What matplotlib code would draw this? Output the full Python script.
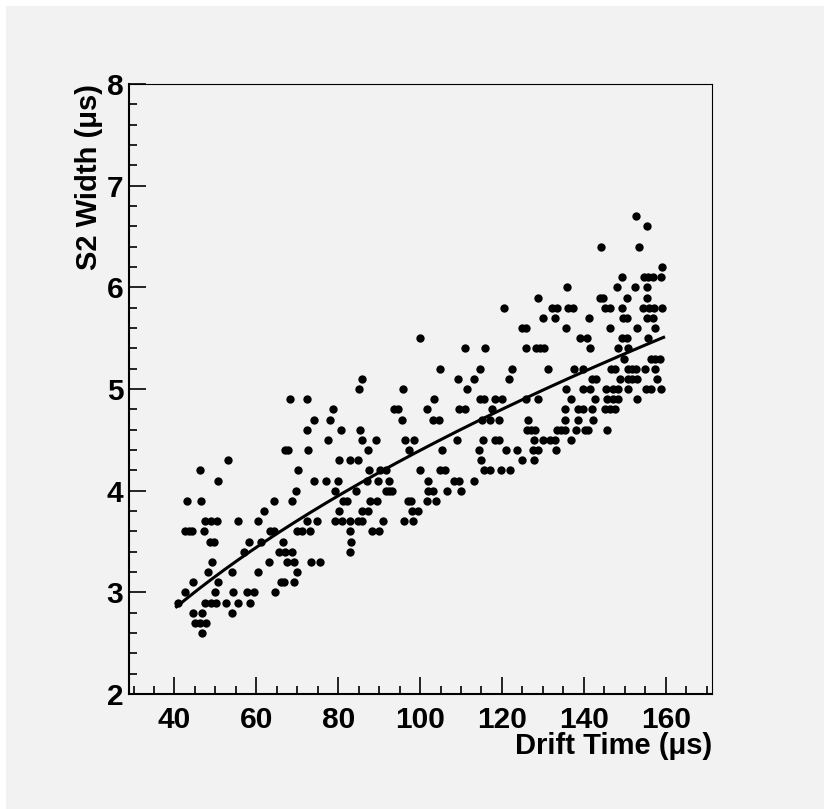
import numpy as np
import matplotlib
matplotlib.use("Agg")
import matplotlib.pyplot as plt
from matplotlib.ticker import MultipleLocator
from matplotlib.patches import Rectangle

# S2 width (us) values are quantised in 0.1 steps; drift times listed per width level
width_levels = [2.6, 2.7, 2.8, 2.9, 3.0, 3.1, 3.2, 3.3, 3.4, 3.5, 3.6, 3.7, 3.8, 3.9,
                4.0, 4.1, 4.2, 4.3, 4.4, 4.5, 4.6, 4.7, 4.8, 4.9, 5.0, 5.1, 5.2, 5.3,
                5.4, 5.5, 5.6, 5.7, 5.8, 5.9, 6.0, 6.1, 6.2, 6.4, 6.6, 6.7]

drift_by_level = [
    [46.8],
    [45.0, 46.3, 47.6],
    [44.6, 46.8, 54.0],
    [40.8, 47.5, 48.9, 50.1, 52.6, 55.5, 58.5],
    [42.6, 49.9, 54.4, 57.7, 59.5, 64.6],
    [44.6, 50.6, 66.0, 66.8, 69.1],
    [48.3, 54.0, 60.3, 69.9],
    [49.1, 63.0, 67.4, 69.1, 73.4, 75.6],
    [57.1, 65.6, 67.0, 68.7, 82.9],
    [48.7, 49.7, 58.2, 61.2, 66.6, 83.2],
    [42.7, 43.6, 44.4, 47.3, 63.4, 64.3, 69.9, 71.1, 73.1, 82.9, 88.2, 90.0],
    [47.5, 48.9, 50.4, 55.6, 60.3, 72.3, 74.9, 79.2, 80.9, 82.9, 84.9, 85.9, 90.9, 96.1, 98.4],
    [62.0, 80.2, 85.8, 87.4, 98.0, 99.6],
    [43.0, 46.5, 64.3, 68.7, 81.1, 82.2, 87.8, 89.4, 97.0, 97.8, 101.6, 103.8],
    [69.6, 79.2, 84.3, 91.6, 92.4, 93.2, 101.9, 103.2, 106.5, 110.0],
    [50.7, 74.2, 77.0, 80.0, 87.1, 89.8, 92.3, 101.9, 108.4, 109.4, 113.3],
    [46.3, 70.1, 87.5, 90.2, 91.6, 99.9, 104.8, 106.0, 115.7, 117.1, 119.8, 122.0],
    [53.2, 80.2, 82.9, 84.9, 114.8, 124.8, 127.9],
    [67.0, 67.8, 72.7, 87.2, 97.3, 105.4, 114.4, 121.0, 123.6, 127.7, 128.9, 133.1],
    [77.4, 85.9, 89.3, 96.3, 98.5, 109.0, 115.3, 118.2, 119.4, 127.9, 130.1, 131.7, 133.0, 137.0],
    [72.5, 80.6, 85.3, 126.1, 127.1, 128.1, 133.4, 134.4, 135.4, 138.2, 140.3, 141.1, 145.7],
    [74.1, 77.9, 95.7, 103.2, 104.6, 115.1, 117.1, 119.3, 126.4, 135.4, 138.5, 142.3],
    [78.8, 93.7, 94.6, 101.8, 109.4, 111.0, 117.5, 135.4, 138.7, 139.9, 141.9, 145.3, 146.4, 147.6],
    [68.3, 72.3, 103.4, 114.6, 115.6, 118.2, 120.0, 125.8, 128.7, 136.9, 142.7, 145.6, 147.2, 148.4, 152.9],
    [85.1, 95.8, 111.5, 135.6, 139.9, 141.5, 145.4, 147.2, 148.4, 150.9, 155.1, 156.4, 158.9],
    [85.8, 109.3, 113.1, 121.8, 141.9, 143.1, 148.8, 150.7, 151.8, 152.9, 157.8],
    [104.8, 114.6, 122.5, 131.3, 137.7, 139.9, 146.6, 147.6, 150.9, 151.8, 152.7, 155.0, 157.4],
    [149.9, 156.4, 157.4, 158.6],
    [110.9, 115.9, 125.8, 128.3, 129.3, 130.4, 141.5, 148.3, 150.9],
    [100.0, 139.0, 140.7, 149.3, 150.5, 155.8],
    [124.8, 125.8, 135.7, 146.4, 152.9, 157.4],
    [130.0, 133.0, 141.3, 149.5, 150.6, 155.4, 157.0],
    [120.6, 132.3, 133.4, 136.2, 137.4, 145.3, 146.4, 149.3, 154.5, 155.9, 157.1, 159.2],
    [128.9, 144.0, 144.8, 150.6, 155.5],
    [135.8, 148.2, 152.5, 155.5],
    [149.4, 154.8, 155.8, 156.8, 158.9],
    [159.2],
    [144.1, 153.6],
    [155.5],
    [152.7],
]

# fit: width = p0 + p1*sqrt(t), drawn over the fit range
fit_p0 = 0.166
fit_p1 = 0.423
fit_range = (40.5, 159.5)

xticks = [40, 60, 80, 100, 120, 140, 160]
yticks = [2, 3, 4, 5, 6, 7, 8]

drift_time = np.concatenate([np.array(d) for d in drift_by_level])
s2_width = np.concatenate([np.full(len(d), w) for w, d in zip(width_levels, drift_by_level)])

plt.rcParams['font.family'] = ['Liberation Sans', 'DejaVu Sans']
plt.rcParams['font.weight'] = 'bold'

W, H = 824, 809
fig = plt.figure(figsize=(W / 100, H / 100), dpi=100, facecolor='white')
bg = Rectangle((6 / W, 0), 1, 1 - 6 / H, transform=fig.transFigure,
               facecolor='#f2f2f2', edgecolor='none', zorder=-10)
fig.add_artist(bg)

ax = fig.add_axes([129 / W, 1 - 694 / H, (712.3 - 129) / W, (694 - 84) / H])
ax.set_facecolor('#f2f2f2')
ax.set_zorder(5)

ax.plot(drift_time, s2_width, 'o', color='black', markersize=6.0, markeredgewidth=0)

tt = np.linspace(fit_range[0], fit_range[1], 300)
ax.plot(tt, fit_p0 + fit_p1 * np.sqrt(tt), color='black', linewidth=2.2)

ax.set_xlim(28.9, 171.4)
ax.set_ylim(2, 8)
ax.set_xticks(xticks)
ax.set_yticks(yticks)
ax.xaxis.set_minor_locator(MultipleLocator(5))
ax.yaxis.set_minor_locator(MultipleLocator(0.2))

ax.tick_params(which='both', direction='in', top=False, right=False, width=1.2,
               labelsize=21.5)
ax.tick_params(which='major', length=12)
ax.tick_params(which='minor', length=6)
ax.tick_params(axis='x', pad=9)
ax.tick_params(axis='y', pad=4)
for lab in ax.get_xticklabels() + ax.get_yticklabels():
    lab.set_fontweight('bold')

ax.spines['left'].set_linewidth(1.5)
ax.spines['bottom'].set_linewidth(1.5)
ax.spines['top'].set_linewidth(0.8)
ax.spines['right'].set_linewidth(0.8)

ax.set_xlabel('Drift Time (\u03bcs)', fontsize=21, fontweight='bold', loc='right', labelpad=-2)
ax.set_ylabel('S2 Width (\u03bcs)', fontsize=21, fontweight='bold', loc='top', labelpad=3)

fig.savefig('out.png', dpi=100, facecolor=fig.get_facecolor())
